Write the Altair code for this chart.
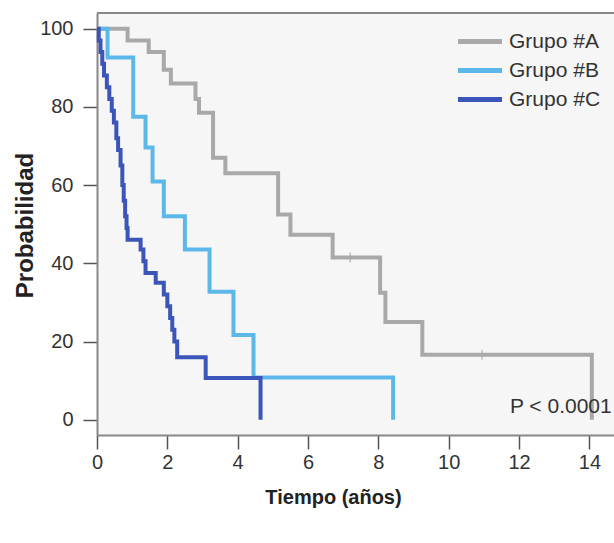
import altair as alt
import pandas as pd

# Kaplan-Meier step data (time in years, survival %)
a_t = [0, 0.87, 1.47, 1.9, 2.1, 2.8, 2.9, 3.3, 3.65, 5.15, 5.5, 6.7, 8.05, 8.2, 9.25, 14.07]
a_s = [100, 97, 94, 89.5, 86, 82, 78.5, 67, 63, 52.5, 47.3, 41.5, 32.5, 25, 16.6, 0]

b_t = [0, 0.3, 1.03, 1.38, 1.58, 1.9, 2.5, 3.2, 3.88, 4.45, 8.42]
b_s = [100, 92.6, 77.5, 69.6, 60.9, 52, 43.5, 32.7, 21.7, 10.8, 0]

c_t = [0, 0.05, 0.1, 0.15, 0.2, 0.28, 0.35, 0.42, 0.48, 0.55, 0.6, 0.67, 0.72, 0.76,
       0.8, 0.84, 0.87, 1.24, 1.32, 1.38, 1.67, 1.9, 2.0, 2.08, 2.14, 2.2, 2.28, 3.09, 4.65]
c_s = [100, 97, 94, 91, 88, 85, 82, 79, 76, 72, 69, 65, 60, 56,
       52, 49, 46, 43.5, 40.5, 37.5, 35, 32, 29, 26, 23, 20, 16, 10.7, 0]

groups = ["Grupo #A", "Grupo #B", "Grupo #C"]
colors = ["#a9a9a9", "#5cb8e8", "#3b56b8"]

# censoring marks
cens_t = [7.2, 10.95]
cens_s = [41.5, 16.6]
cens_g = ["Grupo #A", "Grupo #A"]

rows = []
for g, ts, ss in zip(groups, [a_t, b_t, c_t], [a_s, b_s, c_s]):
    for t, s in zip(ts, ss):
        rows.append({"t": t, "s": s, "g": g})
df = pd.DataFrame(rows)
cens = pd.DataFrame({"t": cens_t, "s": cens_s, "g": cens_g})

ann = pd.DataFrame({"t": [11.74], "s": [3.3], "label": ["P < 0.0001"]})

W, H = 517, 422
xscale = alt.Scale(domain=[0, 14.7], nice=False, zero=False)
yscale = alt.Scale(domain=[-3.9, 104.0], nice=False, zero=False)

font = "Liberation Sans"

color = alt.Color(
    "g:N",
    scale=alt.Scale(domain=groups, range=colors),
    legend=alt.Legend(
        title=None,
        orient="none",
        legendX=372.5,
        legendY=18,
        symbolType="M-4,0H4",
        symbolSize=121,
        symbolStrokeWidth=5,
        labelOffset=18.5,
        labelFontSize=21,
        labelFont=font,
        labelColor="#333333",
        rowPadding=7,
        padding=0,
    ),
)

lines = alt.Chart(df).mark_line(interpolate="step-after", strokeWidth=4).encode(
    x=alt.X(
        "t:Q",
        scale=xscale,
        axis=alt.Axis(
            values=[0, 2, 4, 6, 8, 10, 12, 14],
            title="Tiempo (años)",
            titleFont=font,
            titleFontSize=20,
            titleFontWeight="bold",
            titleColor="#222222",
            titleX=236,
            titleY=62,
            titleAlign="center",
            titleBaseline="middle",
            labelFont=font,
            labelFontSize=20,
            labelColor="#333333",
            labelPadding=3,
            labelFlush=False,
            tickSize=14,
            tickWidth=1.5,
            tickColor="#555555",
            domainColor="#888888",
            domainWidth=2,
            grid=False,
        ),
    ),
    y=alt.Y(
        "s:Q",
        scale=yscale,
        axis=alt.Axis(
            values=[0, 20, 40, 60, 80, 100],
            title="Probabilidad",
            titleFont=font,
            titleFontSize=24,
            titleFontWeight="bold",
            titleColor="#222222",
            titleX=-72,
            titleY=212,
            titleAngle=270,
            titleAlign="center",
            titleBaseline="middle",
            labelFont=font,
            labelFontSize=20,
            labelColor="#333333",
            labelPadding=10,
            labelFlush=False,
            tickSize=14,
            tickWidth=1.5,
            tickColor="#555555",
            domainColor="#888888",
            domainWidth=2,
            grid=False,
        ),
    ),
    color=color,
    order=alt.Order("t:Q"),
)

ticks = alt.Chart(cens).mark_tick(thickness=1.5, size=10, orient="vertical").encode(
    x=alt.X("t:Q", scale=xscale),
    y=alt.Y("s:Q", scale=yscale),
    color=alt.Color("g:N", scale=alt.Scale(domain=groups, range=colors), legend=None),
)

text = alt.Chart(ann).mark_text(
    align="left", baseline="middle", fontSize=21, font=font, color="#333333"
).encode(
    x=alt.X("t:Q", scale=xscale),
    y=alt.Y("s:Q", scale=yscale),
    text="label:N",
)

top = alt.Chart(ann).mark_rule(color="#888888", strokeWidth=2).encode(
    x=alt.value(0), x2=alt.value(W), y=alt.value(0)
)

chart = (
    alt.layer(lines, ticks, text, top)
    .properties(
        width=W,
        height=H,
        padding={"left": 97, "top": 13, "right": 0, "bottom": 108},
        autosize=alt.AutoSizeParams(type="none"),
        background="white",
    )
    .configure_view(stroke=None, fill="#f6f6f6")
)

chart.save("out.html", embed_options={"renderer": "svg", "actions": False})
